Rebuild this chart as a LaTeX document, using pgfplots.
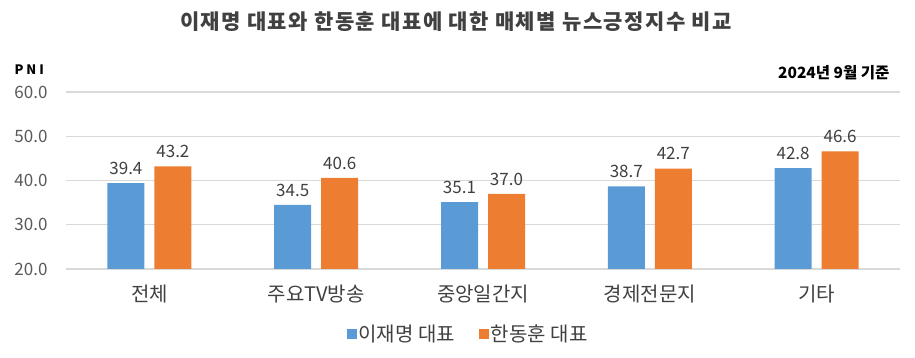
\documentclass[border=0pt]{standalone}
\usepackage{fontspec}
\setmainfont{Noto Sans CJK KR}
\newfontfamily\titlefont[LetterSpace=7]{Noto Sans CJK KR}
\usepackage{pgfplots}
\pgfplotsset{compat=1.18}
\definecolor{cblue}{HTML}{5B9BD5}
\definecolor{corange}{HTML}{ED7D31}
\definecolor{txt}{HTML}{595959}
\definecolor{lbl}{HTML}{404040}
\definecolor{gridc}{HTML}{D9D9D9}
\begin{document}
\begin{tikzpicture}
\path[use as bounding box] (0pt,0pt) rectangle (915pt,358pt);
\begin{axis}[
  at={(66pt,89pt)}, anchor=south west, scale only axis,
  width=834pt, height=177pt,
  ymin=20, ymax=60, ytick={20,30,...,60},
  xmin=-0.5, xmax=4.5, xtick={0,...,4},
  xticklabels={전체,주요TV방송,중앙일간지,경제전문지,기타},
  ybar=10pt, bar width=37pt,
  axis line style={draw=none}, major tick length=0pt,
  ymajorgrids, grid style={draw=gridc, line width=1.3pt},
  /pgf/number format/assume math mode=true,
  yticklabel style={/pgf/number format/fixed, /pgf/number format/fixed zerofill, /pgf/number format/precision=1},
  yticklabel style={font=\fontsize{17}{20}\selectfont, text=txt, xshift=-15pt},
  xticklabel style={font=\fontsize{20}{24}\selectfont, text=lbl, yshift=-12pt},
  nodes near coords,
  nodes near coords style={font=\fontsize{17}{20}\selectfont, text=lbl, yshift=5pt, /pgf/number format/fixed, /pgf/number format/fixed zerofill, /pgf/number format/precision=1},
  legend style={at={(0.482,-0.367)}, anchor=center, draw=none, legend columns=2,
    font=\fontsize{20}{23}\selectfont, text=lbl,
    /tikz/every even column/.append style={column sep=22pt}},
]
\addplot[fill=cblue, draw=none, legend image code/.code={\fill[cblue] (0pt,-5pt) rectangle (10pt,5pt);}]
  coordinates {(0,39.4) (1,34.5) (2,35.1) (3,38.7) (4,42.8)};
\addplot[fill=corange, draw=none, legend image code/.code={\fill[corange] (0pt,-5pt) rectangle (10pt,5pt);}]
  coordinates {(0,43.2) (1,40.6) (2,37.0) (3,42.7) (4,46.6)};
\legend{이재명 대표, 한동훈 대표}
\end{axis}
\node[font=\fontsize{21}{24}\titlefont\bfseries, text=lbl] at (456pt,336pt) {이재명 대표와 한동훈 대표에 대한 매체별 뉴스긍정지수 비교};
\node[font=\fontsize{13}{15}\selectfont\bfseries, anchor=west] at (11pt,288pt) {P N I};
\node[font=\fontsize{15.5}{18}\selectfont\bfseries, anchor=east] at (893pt,285pt) {2024년 9월 기준};
\end{tikzpicture}
\end{document}
